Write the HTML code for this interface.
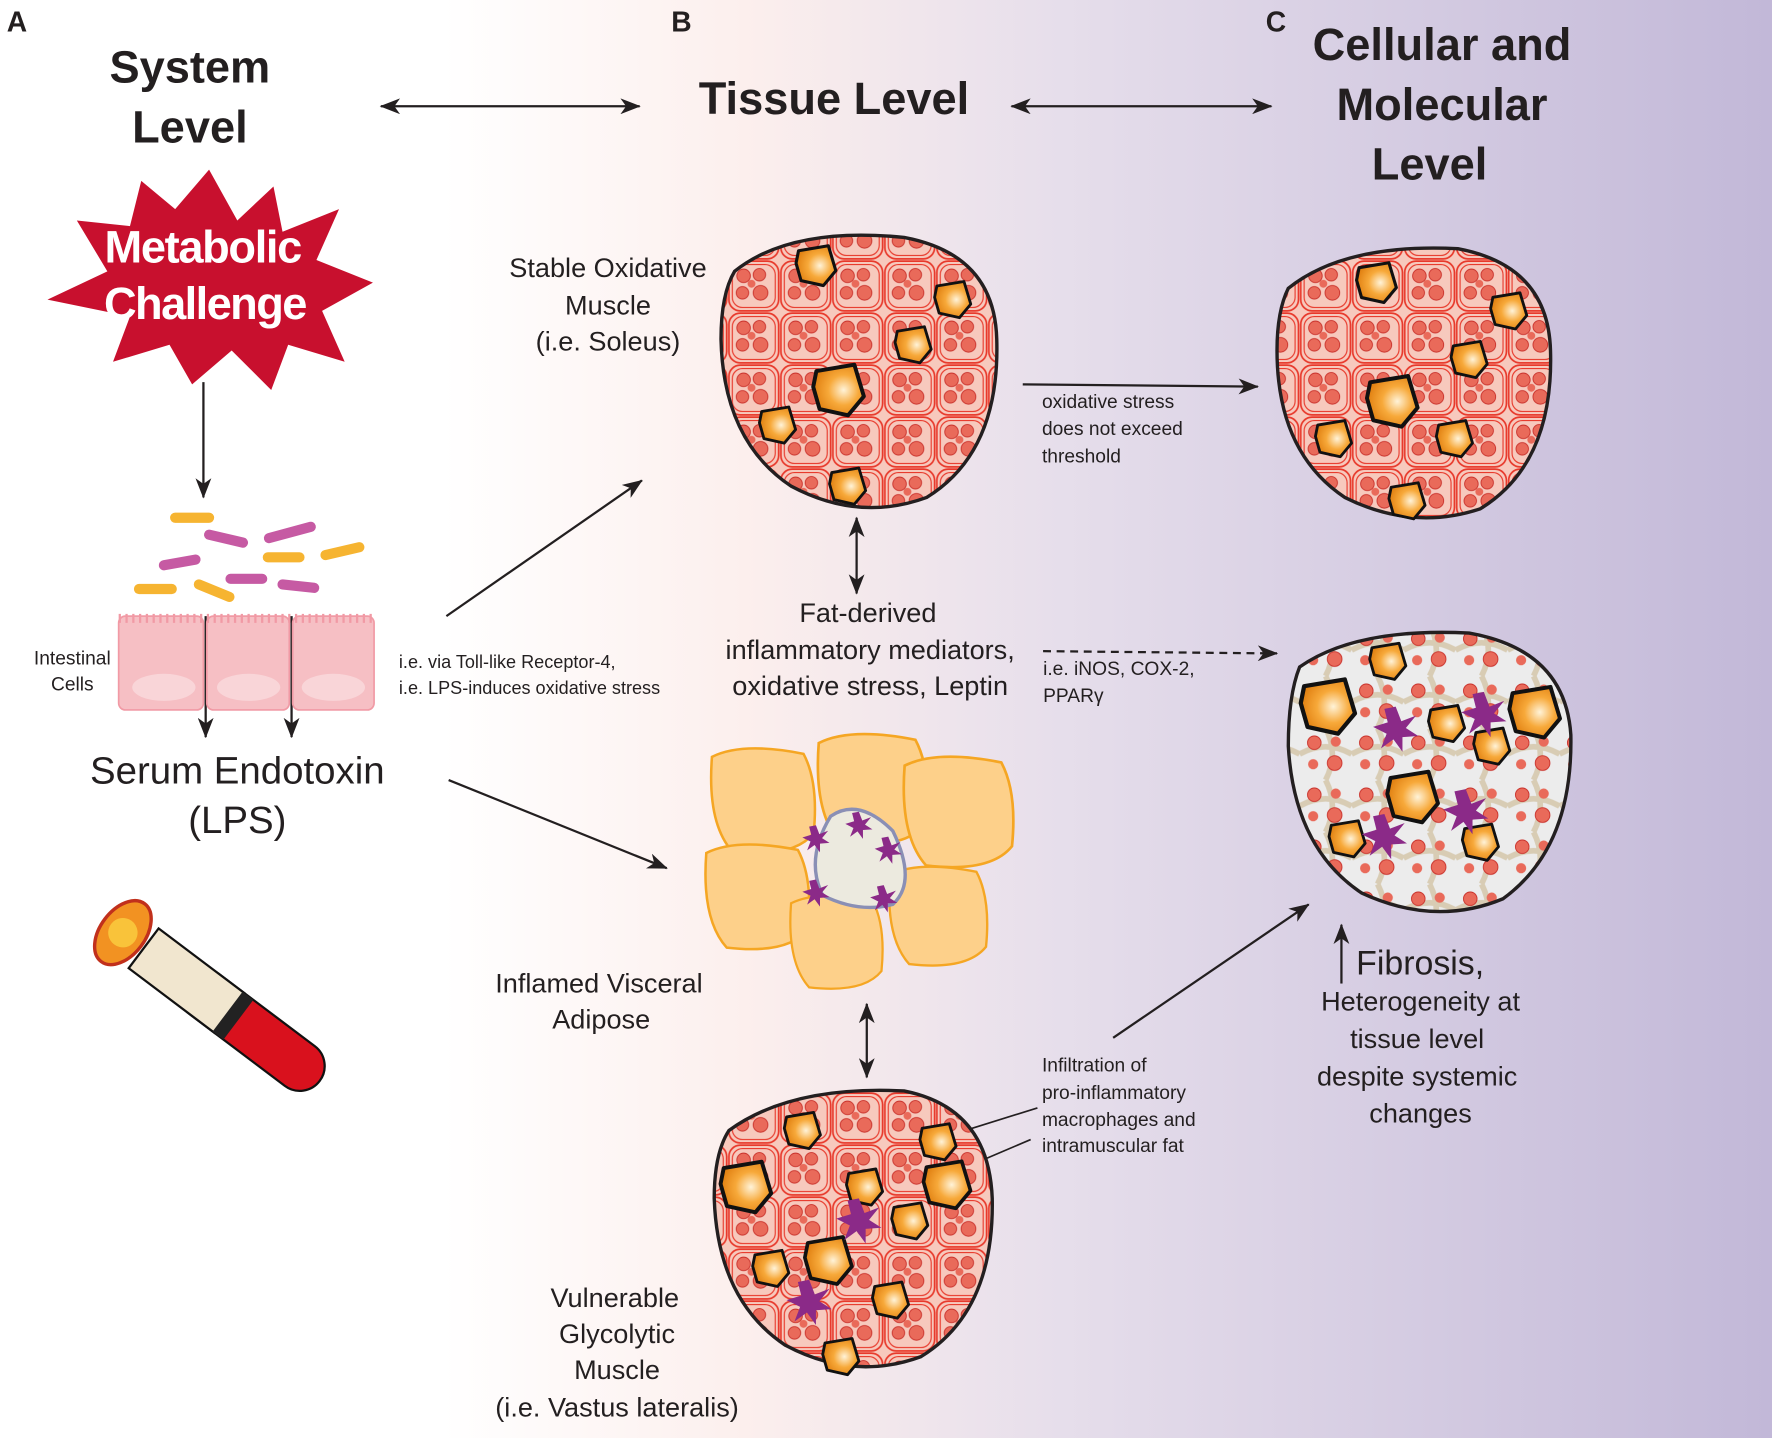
<!DOCTYPE html>
<html><head><meta charset="utf-8"><style>
html,body{margin:0;padding:0;background:#fff}
svg{display:block}
text{font-family:"Liberation Sans",sans-serif;fill:#231f20}
.b{font-weight:bold}
</style></head><body>
<svg width="1772" height="1438" viewBox="0 0 1568 1272" preserveAspectRatio="none" xmlns="http://www.w3.org/2000/svg">
<defs>
<linearGradient id="bg" x1="0" x2="1" y1="0" y2="0">
<stop offset="0" stop-color="#fff"/><stop offset="0.25" stop-color="#fff"/>
<stop offset="0.42" stop-color="#fcefed"/><stop offset="0.6" stop-color="#e6deeb"/>
<stop offset="1" stop-color="#c2b8d8"/></linearGradient>
<marker id="ah" markerWidth="10" markerHeight="10" refX="9" refY="5" orient="auto" markerUnits="userSpaceOnUse" viewBox="0 0 10 10">
<path d="M0,0 L10,5 L0,10 L3,5z" fill="#231f20"/></marker>
<marker id="ahs" markerWidth="18" markerHeight="14" refX="17" refY="7" orient="auto-start-reverse" markerUnits="userSpaceOnUse" viewBox="0 0 18 14">
<path d="M0,0 L18,7 L0,14 L5,7z" fill="#231f20"/></marker>
<pattern id="mus" width="46" height="46" patternUnits="userSpaceOnUse">
<rect width="46" height="46" fill="#f7c9bd"/>
<rect x="1" y="1" width="44" height="44" rx="10" fill="none" stroke="#e8392b" stroke-width="1.5"/>
<rect x="4" y="4" width="38" height="38" rx="9" fill="none" stroke="#e8392b" stroke-width="1"/>
<circle cx="14" cy="14" r="6" fill="#e96a5a" stroke="#c9302a" stroke-width=".8"/>
<circle cx="28" cy="13" r="5.5" fill="#e96a5a" stroke="#c9302a" stroke-width=".8"/>
<circle cx="13" cy="29" r="5.5" fill="#e96a5a" stroke="#c9302a" stroke-width=".8"/>
<circle cx="29" cy="29" r="6.5" fill="#e96a5a" stroke="#c9302a" stroke-width=".8"/>
<circle cx="21" cy="21" r="3.5" fill="#e96a5a"/>
</pattern>
<pattern id="fib" width="46" height="46" patternUnits="userSpaceOnUse">
<rect width="46" height="46" fill="#ececec"/>
<path d="M0,23 Q23,10 46,23 M23,0 Q35,23 23,46" stroke="#d8ccb4" stroke-width="5" fill="none"/>
<circle cx="13" cy="13" r="6" fill="#e96a5a" stroke="#c9302a" stroke-width=".8"/>
<circle cx="31" cy="31" r="6.5" fill="#e96a5a" stroke="#c9302a" stroke-width=".8"/>
<circle cx="32" cy="12" r="4.5" fill="#e96a5a"/>
<circle cx="12" cy="32" r="4.5" fill="#e96a5a"/>
</pattern>
<radialGradient id="fat" cx=".6" cy=".5" r=".6"><stop offset="0" stop-color="#fff3d8"/><stop offset=".5" stop-color="#f7a93a"/><stop offset="1" stop-color="#e07f10"/></radialGradient>
<g id="drop"><path d="M-14,-12 L10,-16 L16,4 L6,16 L-12,12 L-16,-2z" fill="url(#fat)" stroke="#111" stroke-width="2.5" stroke-linejoin="round"/></g>
<g id="star"><path d="M0,-20 L5,-7 L18,-12 L9,-1 L20,6 L6,7 L6,20 L-2,9 L-13,17 L-8,4 L-20,-2 L-7,-6 L-10,-18z" fill="#8b2a88"/></g>
<g id="cell"><path d="M-50,-45 Q-20,-60 40,-48 Q55,-20 50,30 Q30,55 -30,48 Q-55,20 -50,-45z" fill="#fdd08a" stroke="#f5a623" stroke-width="2.5"/></g>
</defs>
<rect width="1568" height="1272" fill="url(#bg)"/>

<!-- headers -->
<text x="6" y="28" class="b" font-size="25">A</text>
<text x="594" y="28" class="b" font-size="25">B</text>
<text x="1120" y="28" class="b" font-size="25">C</text>
<g class="b" font-size="40" text-anchor="middle">
<text x="168" y="73" class="b">System</text>
<text x="168" y="126" class="b">Level</text>
<text x="738" y="101" class="b">Tissue Level</text>
<text x="1276" y="53" class="b">Cellular and</text>
<text x="1276" y="106" class="b">Molecular</text>
<text x="1265" y="159" class="b">Level</text>
</g>
<g stroke="#231f20" stroke-width="2" fill="none">
<line x1="337" y1="94" x2="566" y2="94" marker-start="url(#ahs)" marker-end="url(#ahs)"/>
<line x1="895" y1="94" x2="1125" y2="94" marker-start="url(#ahs)" marker-end="url(#ahs)"/>
<line x1="180" y1="338" x2="180" y2="440" marker-end="url(#ahs)"/>
<line x1="182" y1="545" x2="182" y2="652" marker-end="url(#ahs)"/>
<line x1="258" y1="545" x2="258" y2="652" marker-end="url(#ahs)"/>
<line x1="395" y1="545" x2="568" y2="425" marker-end="url(#ahs)"/>
<line x1="397" y1="690" x2="590" y2="768" marker-end="url(#ahs)"/>
<line x1="905" y1="340" x2="1113" y2="342" marker-end="url(#ahs)"/>
<line x1="758" y1="458" x2="758" y2="525" marker-start="url(#ahs)" marker-end="url(#ahs)"/>
<line x1="923" y1="576" x2="1130" y2="578" stroke-dasharray="7,5" marker-end="url(#ahs)"/>
<line x1="767" y1="888" x2="767" y2="953" marker-start="url(#ahs)" marker-end="url(#ahs)"/>
<line x1="985" y1="918" x2="1158" y2="800" marker-end="url(#ahs)"/>
<line x1="1187" y1="870" x2="1187" y2="818" marker-end="url(#ahs)"/>
<line x1="918" y1="980" x2="822" y2="1010" stroke-width="1.5"/>
<line x1="912" y1="1008" x2="790" y2="1060" stroke-width="1.5"/>
</g>

<!-- starburst -->
<path d="M185,150 L210,195 L242,165 L250,205 L300,185 L280,230 L330,250 L285,275 L305,320 L255,305 L240,345 L205,310 L170,340 L150,305 L100,320 L115,280 L42,265 L95,240 L68,195 L115,200 L125,160 L155,185z" fill="#c8102e"/>
<text x="180" y="232" class="b" font-size="40" text-anchor="middle" style="fill:#fff" textLength="175">Metabolic</text>
<text x="182" y="282" class="b" font-size="40" text-anchor="middle" style="fill:#fff" textLength="180">Challenge</text>

<!-- bacteria -->
<g stroke-linecap="round" stroke-width="9">
<line x1="155" y1="458" x2="185" y2="458" stroke="#f6b431"/>
<line x1="185" y1="473" x2="215" y2="480" stroke="#c65aa3"/>
<line x1="238" y1="476" x2="275" y2="466" stroke="#c65aa3"/>
<line x1="145" y1="500" x2="173" y2="495" stroke="#c65aa3"/>
<line x1="237" y1="493" x2="265" y2="493" stroke="#f6b431"/>
<line x1="288" y1="491" x2="318" y2="484" stroke="#f6b431"/>
<line x1="204" y1="512" x2="232" y2="512" stroke="#c65aa3"/>
<line x1="123" y1="521" x2="152" y2="521" stroke="#f6b431"/>
<line x1="176" y1="517" x2="203" y2="528" stroke="#f6b431"/>
<line x1="250" y1="517" x2="278" y2="520" stroke="#c65aa3"/>
</g>
<!-- intestinal cells -->
<g fill="#f6bfc4" stroke="#f19aa5" stroke-width="1.5">
<rect x="105" y="545" width="75" height="83" rx="6"/>
<rect x="183" y="545" width="73" height="83" rx="6"/>
<rect x="259" y="545" width="72" height="83" rx="6"/>
</g>
<path d="M105,547 h226" stroke="#f19aa5" stroke-width="8" stroke-dasharray="2,4"/>
<ellipse cx="145" cy="608" rx="28" ry="12" fill="#f9d5d8"/>
<ellipse cx="220" cy="608" rx="28" ry="12" fill="#f9d5d8"/>
<ellipse cx="295" cy="608" rx="28" ry="12" fill="#f9d5d8"/>
<text x="64" y="588" font-size="17" text-anchor="middle">Intestinal</text>
<text x="64" y="611" font-size="17" text-anchor="middle">Cells</text>
<text x="210" y="693" font-size="34" text-anchor="middle">Serum Endotoxin</text>
<text x="210" y="737" font-size="34" text-anchor="middle">(LPS)</text>

<!-- test tube -->
<g transform="translate(195,890) rotate(37)">
<rect x="-40" y="-22" width="150" height="44" rx="22" fill="#d9111d" stroke="#111" stroke-width="2"/>
<rect x="-85" y="-22" width="95" height="44" fill="#f1e6cf" stroke="#111" stroke-width="2"/>
<rect x="8" y="-22" width="12" height="44" fill="#222"/>
<ellipse cx="-108" cy="0" rx="20" ry="32" fill="#f29222" stroke="#c1301c" stroke-width="3"/>
<circle cx="-108" cy="0" r="13" fill="#f9c33a"/>
</g>

<text x="353" y="591" font-size="16">i.e. via Toll-like Receptor-4,</text>
<text x="353" y="614" font-size="16">i.e. LPS-induces oxidative stress</text>

<g font-size="24" text-anchor="middle">
<text x="538" y="245">Stable Oxidative</text>
<text x="538" y="278">Muscle</text>
<text x="538" y="310">(i.e. Soleus)</text>
<text x="768" y="550">Fat-derived</text>
<text x="770" y="583">inflammatory mediators,</text>
<text x="770" y="615">oxidative stress, Leptin</text>
<text x="530" y="878">Inflamed Visceral</text>
<text x="532" y="910">Adipose</text>
<text x="544" y="1156">Vulnerable</text>
<text x="546" y="1188">Glycolytic</text>
<text x="546" y="1220">Muscle</text>
<text x="546" y="1253">(i.e. Vastus lateralis)</text>
<text x="1257" y="894">Heterogeneity at</text>
<text x="1254" y="927">tissue level</text>
<text x="1254" y="960">despite systemic</text>
<text x="1257" y="993">changes</text>
</g>
<text x="1200" y="862" font-size="30">Fibrosis,</text>
<g font-size="17">
<text x="922" y="361">oxidative stress</text>
<text x="922" y="385">does not exceed</text>
<text x="922" y="409">threshold</text>
<text x="923" y="597">i.e. iNOS, COX-2,</text>
<text x="923" y="621">PPARγ</text>
<text x="922" y="948">Infiltration of</text>
<text x="922" y="972">pro-inflammatory</text>
<text x="922" y="996">macrophages and</text>
<text x="922" y="1019">intramuscular fat</text>
</g>

<!-- muscle 1 -->
<path d="M650,240 Q700,200 800,210 Q880,225 882,300 Q885,400 820,440 Q760,462 700,430 Q640,390 638,300 Q638,260 650,240z" fill="url(#mus)" stroke="#231f20" stroke-width="3"/>
<use href="#drop" transform="translate(722,235) scale(1.1)"/>
<use href="#drop" transform="translate(843,265)"/>
<use href="#drop" transform="translate(808,305)"/>
<use href="#drop" transform="translate(742,345) scale(1.4)"/>
<use href="#drop" transform="translate(688,376)"/>
<use href="#drop" transform="translate(750,430)"/>
<!-- muscle 2 -->
<path d="M1140,255 Q1190,215 1290,220 Q1370,235 1372,310 Q1375,410 1310,450 Q1250,470 1190,440 Q1130,400 1130,310 Q1130,275 1140,255z" fill="url(#mus)" stroke="#231f20" stroke-width="3"/>
<use href="#drop" transform="translate(1218,250) scale(1.1)"/>
<use href="#drop" transform="translate(1335,275)"/>
<use href="#drop" transform="translate(1300,318)"/>
<use href="#drop" transform="translate(1232,355) scale(1.4)"/>
<use href="#drop" transform="translate(1180,388)"/>
<use href="#drop" transform="translate(1287,388)"/>
<use href="#drop" transform="translate(1245,443)"/>
<!-- muscle 3 fibrotic -->
<path d="M1150,590 Q1200,555 1300,560 Q1385,575 1390,650 Q1392,750 1330,795 Q1270,820 1205,790 Q1145,750 1140,660 Q1140,615 1150,590z" fill="url(#fib)" stroke="#231f20" stroke-width="3"/>
<use href="#drop" transform="translate(1175,625) scale(1.5)"/>
<use href="#drop" transform="translate(1280,640)"/>
<use href="#drop" transform="translate(1358,630) scale(1.4)"/>
<use href="#drop" transform="translate(1320,660)"/>
<use href="#drop" transform="translate(1250,705) scale(1.4)"/>
<use href="#drop" transform="translate(1192,742)"/>
<use href="#drop" transform="translate(1310,745)"/>
<use href="#drop" transform="translate(1228,585)"/>
<use href="#star" transform="translate(1235,645)"/>
<use href="#star" transform="translate(1313,632)"/>
<use href="#star" transform="translate(1225,740)"/>
<use href="#star" transform="translate(1297,718)"/>
<!-- adipose -->
<use href="#cell" transform="translate(675,710) scale(.9)"/>
<use href="#cell" transform="translate(772,700) scale(.95)"/>
<use href="#cell" transform="translate(848,720) scale(.95)"/>
<use href="#cell" transform="translate(670,795) scale(.9)"/>
<use href="#cell" transform="translate(740,835) scale(.8)"/>
<use href="#cell" transform="translate(830,812) scale(.85)"/>
<path d="M735,722 Q760,705 790,735 Q812,780 790,800 Q760,808 728,792 Q712,760 735,722z" fill="#eceadf" stroke="#8a8fb5" stroke-width="3"/>
<use href="#star" transform="translate(722,742) scale(.6)"/>
<use href="#star" transform="translate(760,730) scale(.6)"/>
<use href="#star" transform="translate(786,752) scale(.6)"/>
<use href="#star" transform="translate(722,790) scale(.6)"/>
<use href="#star" transform="translate(782,795) scale(.6)"/>
<!-- muscle 4 -->
<path d="M645,1000 Q700,960 800,965 Q875,980 878,1060 Q880,1160 815,1200 Q755,1222 695,1190 Q635,1150 632,1060 Q632,1020 645,1000z" fill="url(#mus)" stroke="#231f20" stroke-width="3"/>
<use href="#drop" transform="translate(710,1000)"/>
<use href="#drop" transform="translate(830,1010)"/>
<use href="#drop" transform="translate(660,1050) scale(1.4)"/>
<use href="#drop" transform="translate(765,1050)"/>
<use href="#drop" transform="translate(838,1048) scale(1.3)"/>
<use href="#drop" transform="translate(805,1080)"/>
<use href="#drop" transform="translate(733,1115) scale(1.3)"/>
<use href="#drop" transform="translate(682,1122)"/>
<use href="#drop" transform="translate(788,1150)"/>
<use href="#drop" transform="translate(744,1200)"/>
<use href="#star" transform="translate(760,1080)"/>
<use href="#star" transform="translate(716,1152)"/>
</svg>
</body></html>
